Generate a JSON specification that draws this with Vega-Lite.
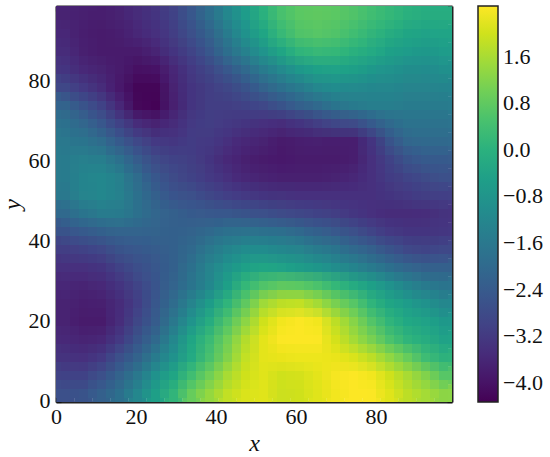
{"$schema":"https://vega.github.io/schema/vega-lite/v6.json","width":396,"height":396,"autosize":{"type":"none"},"padding":{"left":56,"top":6,"right":98,"bottom":55},"background":"white","config":{"view":{"stroke":null},"font":"Liberation Serif","axis":{"domainColor":"#222222","domainWidth":2,"tickColor":"#111111","tickWidth":1.2,"tickSize":-5,"grid":false,"labelFont":"Liberation Serif","labelFontSize":22,"labelColor":"#111111","labelAngle":0,"labelFlush":false,"titleFont":"Liberation Serif","titleFontSize":24,"titleFontStyle":"italic","titleFontWeight":"normal","titleColor":"#111111","zindex":1}},"data":{"name":"grid"},"datasets":{"grid":[
{"x":2,"y":97,"v":-3.7},{"x":7,"y":97,"v":-3.75},{"x":11,"y":97,"v":-3.8},{"x":16,"y":97,"v":-3.7},{"x":20,"y":97,"v":-3.5},{"x":25,"y":97,"v":-3.3},{"x":29,"y":97,"v":-3.0},{"x":34,"y":97,"v":-2.5},{"x":38,"y":97,"v":-1.9},{"x":43,"y":97,"v":-1.2},{"x":47,"y":97,"v":-0.6},{"x":52,"y":97,"v":0.0},{"x":56,"y":97,"v":0.5},{"x":61,"y":97,"v":0.75},{"x":65,"y":97,"v":0.8},{"x":70,"y":97,"v":0.75},{"x":74,"y":97,"v":0.6},{"x":79,"y":97,"v":0.4},{"x":83,"y":97,"v":0.2},{"x":88,"y":97,"v":0.0},{"x":92,"y":97,"v":-0.1},{"x":97,"y":97,"v":-0.1},
{"x":2,"y":92,"v":-3.6},{"x":7,"y":92,"v":-3.8},{"x":11,"y":92,"v":-3.85},{"x":16,"y":92,"v":-3.8},{"x":20,"y":92,"v":-3.6},{"x":25,"y":92,"v":-3.4},{"x":29,"y":92,"v":-3.1},{"x":34,"y":92,"v":-2.7},{"x":38,"y":92,"v":-2.2},{"x":43,"y":92,"v":-1.5},{"x":47,"y":92,"v":-0.9},{"x":52,"y":92,"v":-0.3},{"x":56,"y":92,"v":0.25},{"x":61,"y":92,"v":0.6},{"x":65,"y":92,"v":0.7},{"x":70,"y":92,"v":0.6},{"x":74,"y":92,"v":0.4},{"x":79,"y":92,"v":0.15},{"x":83,"y":92,"v":-0.1},{"x":88,"y":92,"v":-0.3},{"x":92,"y":92,"v":-0.4},{"x":97,"y":92,"v":-0.35},
{"x":2,"y":88,"v":-3.5},{"x":7,"y":88,"v":-3.75},{"x":11,"y":88,"v":-3.85},{"x":16,"y":88,"v":-3.85},{"x":20,"y":88,"v":-3.85},{"x":25,"y":88,"v":-3.65},{"x":29,"y":88,"v":-3.3},{"x":34,"y":88,"v":-2.95},{"x":38,"y":88,"v":-2.5},{"x":43,"y":88,"v":-1.9},{"x":47,"y":88,"v":-1.35},{"x":52,"y":88,"v":-0.8},{"x":56,"y":88,"v":-0.3},{"x":61,"y":88,"v":0.1},{"x":65,"y":88,"v":0.25},{"x":70,"y":88,"v":0.2},{"x":74,"y":88,"v":0.0},{"x":79,"y":88,"v":-0.2},{"x":83,"y":88,"v":-0.45},{"x":88,"y":88,"v":-0.6},{"x":92,"y":88,"v":-0.7},{"x":97,"y":88,"v":-0.6},
{"x":2,"y":83,"v":-3.3},{"x":7,"y":83,"v":-3.55},{"x":11,"y":83,"v":-3.7},{"x":16,"y":83,"v":-3.85},{"x":20,"y":83,"v":-4.05},{"x":25,"y":83,"v":-4.0},{"x":29,"y":83,"v":-3.6},{"x":34,"y":83,"v":-3.2},{"x":38,"y":83,"v":-2.9},{"x":43,"y":83,"v":-2.45},{"x":47,"y":83,"v":-2.0},{"x":52,"y":83,"v":-1.5},{"x":56,"y":83,"v":-1.1},{"x":61,"y":83,"v":-0.7},{"x":65,"y":83,"v":-0.45},{"x":70,"y":83,"v":-0.4},{"x":74,"y":83,"v":-0.5},{"x":79,"y":83,"v":-0.7},{"x":83,"y":83,"v":-0.85},{"x":88,"y":83,"v":-1.0},{"x":92,"y":83,"v":-1.05},{"x":97,"y":83,"v":-0.95},
{"x":2,"y":79,"v":-2.9},{"x":7,"y":79,"v":-3.2},{"x":11,"y":79,"v":-3.5},{"x":16,"y":79,"v":-3.9},{"x":20,"y":79,"v":-4.25},{"x":25,"y":79,"v":-4.25},{"x":29,"y":79,"v":-3.7},{"x":34,"y":79,"v":-3.3},{"x":38,"y":79,"v":-3.1},{"x":43,"y":79,"v":-2.9},{"x":47,"y":79,"v":-2.6},{"x":52,"y":79,"v":-2.2},{"x":56,"y":79,"v":-1.8},{"x":61,"y":79,"v":-1.5},{"x":65,"y":79,"v":-1.2},{"x":70,"y":79,"v":-1.05},{"x":74,"y":79,"v":-1.1},{"x":79,"y":79,"v":-1.15},{"x":83,"y":79,"v":-1.2},{"x":88,"y":79,"v":-1.3},{"x":92,"y":79,"v":-1.3},{"x":97,"y":79,"v":-1.25},
{"x":2,"y":74,"v":-2.2},{"x":7,"y":74,"v":-2.6},{"x":11,"y":74,"v":-3.0},{"x":16,"y":74,"v":-3.6},{"x":20,"y":74,"v":-4.2},{"x":25,"y":74,"v":-4.3},{"x":29,"y":74,"v":-3.75},{"x":34,"y":74,"v":-3.3},{"x":38,"y":74,"v":-3.1},{"x":43,"y":74,"v":-3.1},{"x":47,"y":74,"v":-3.0},{"x":52,"y":74,"v":-2.85},{"x":56,"y":74,"v":-2.6},{"x":61,"y":74,"v":-2.3},{"x":65,"y":74,"v":-2.0},{"x":70,"y":74,"v":-1.7},{"x":74,"y":74,"v":-1.55},{"x":79,"y":74,"v":-1.45},{"x":83,"y":74,"v":-1.45},{"x":88,"y":74,"v":-1.5},{"x":92,"y":74,"v":-1.5},{"x":97,"y":74,"v":-1.5},
{"x":2,"y":70,"v":-1.8},{"x":7,"y":70,"v":-2.1},{"x":11,"y":70,"v":-2.5},{"x":16,"y":70,"v":-3.0},{"x":20,"y":70,"v":-3.5},{"x":25,"y":70,"v":-3.7},{"x":29,"y":70,"v":-3.5},{"x":34,"y":70,"v":-3.2},{"x":38,"y":70,"v":-3.1},{"x":43,"y":70,"v":-3.2},{"x":47,"y":70,"v":-3.3},{"x":52,"y":70,"v":-3.4},{"x":56,"y":70,"v":-3.45},{"x":61,"y":70,"v":-3.3},{"x":65,"y":70,"v":-3.1},{"x":70,"y":70,"v":-2.9},{"x":74,"y":70,"v":-2.8},{"x":79,"y":70,"v":-2.4},{"x":83,"y":70,"v":-2.0},{"x":88,"y":70,"v":-1.75},{"x":92,"y":70,"v":-1.75},{"x":97,"y":70,"v":-1.75},
{"x":2,"y":65,"v":-1.6},{"x":7,"y":65,"v":-1.7},{"x":11,"y":65,"v":-1.95},{"x":16,"y":65,"v":-2.4},{"x":20,"y":65,"v":-2.85},{"x":25,"y":65,"v":-3.2},{"x":29,"y":65,"v":-3.25},{"x":34,"y":65,"v":-3.15},{"x":38,"y":65,"v":-3.2},{"x":43,"y":65,"v":-3.4},{"x":47,"y":65,"v":-3.6},{"x":52,"y":65,"v":-3.7},{"x":56,"y":65,"v":-3.85},{"x":61,"y":65,"v":-3.8},{"x":65,"y":65,"v":-3.75},{"x":70,"y":65,"v":-3.8},{"x":74,"y":65,"v":-3.8},{"x":79,"y":65,"v":-3.3},{"x":83,"y":65,"v":-2.6},{"x":88,"y":65,"v":-2.1},{"x":92,"y":65,"v":-2.0},{"x":97,"y":65,"v":-2.0},
{"x":2,"y":61,"v":-1.5},{"x":7,"y":61,"v":-1.4},{"x":11,"y":61,"v":-1.45},{"x":16,"y":61,"v":-1.8},{"x":20,"y":61,"v":-2.35},{"x":25,"y":61,"v":-2.8},{"x":29,"y":61,"v":-3.0},{"x":34,"y":61,"v":-3.1},{"x":38,"y":61,"v":-3.3},{"x":43,"y":61,"v":-3.55},{"x":47,"y":61,"v":-3.75},{"x":52,"y":61,"v":-3.85},{"x":56,"y":61,"v":-3.9},{"x":61,"y":61,"v":-3.85},{"x":65,"y":61,"v":-3.85},{"x":70,"y":61,"v":-3.85},{"x":74,"y":61,"v":-3.8},{"x":79,"y":61,"v":-3.4},{"x":83,"y":61,"v":-3.0},{"x":88,"y":61,"v":-2.6},{"x":92,"y":61,"v":-2.4},{"x":97,"y":61,"v":-2.4},
{"x":2,"y":56,"v":-1.5},{"x":7,"y":56,"v":-1.25},{"x":11,"y":56,"v":-1.15},{"x":16,"y":56,"v":-1.4},{"x":20,"y":56,"v":-1.95},{"x":25,"y":56,"v":-2.5},{"x":29,"y":56,"v":-2.8},{"x":34,"y":56,"v":-3.0},{"x":38,"y":56,"v":-3.2},{"x":43,"y":56,"v":-3.4},{"x":47,"y":56,"v":-3.6},{"x":52,"y":56,"v":-3.7},{"x":56,"y":56,"v":-3.75},{"x":61,"y":56,"v":-3.75},{"x":65,"y":56,"v":-3.75},{"x":70,"y":56,"v":-3.7},{"x":74,"y":56,"v":-3.6},{"x":79,"y":56,"v":-3.4},{"x":83,"y":56,"v":-3.15},{"x":88,"y":56,"v":-2.95},{"x":92,"y":56,"v":-2.8},{"x":97,"y":56,"v":-2.7},
{"x":2,"y":52,"v":-1.6},{"x":7,"y":52,"v":-1.3},{"x":11,"y":52,"v":-1.15},{"x":16,"y":52,"v":-1.35},{"x":20,"y":52,"v":-1.8},{"x":25,"y":52,"v":-2.3},{"x":29,"y":52,"v":-2.55},{"x":34,"y":52,"v":-2.7},{"x":38,"y":52,"v":-2.9},{"x":43,"y":52,"v":-3.05},{"x":47,"y":52,"v":-3.2},{"x":52,"y":52,"v":-3.3},{"x":56,"y":52,"v":-3.35},{"x":61,"y":52,"v":-3.4},{"x":65,"y":52,"v":-3.4},{"x":70,"y":52,"v":-3.4},{"x":74,"y":52,"v":-3.4},{"x":79,"y":52,"v":-3.4},{"x":83,"y":52,"v":-3.3},{"x":88,"y":52,"v":-3.2},{"x":92,"y":52,"v":-3.1},{"x":97,"y":52,"v":-3.05},
{"x":2,"y":47,"v":-2.0},{"x":7,"y":47,"v":-1.7},{"x":11,"y":47,"v":-1.5},{"x":16,"y":47,"v":-1.55},{"x":20,"y":47,"v":-1.8},{"x":25,"y":47,"v":-2.1},{"x":29,"y":47,"v":-2.3},{"x":34,"y":47,"v":-2.4},{"x":38,"y":47,"v":-2.45},{"x":43,"y":47,"v":-2.5},{"x":47,"y":47,"v":-2.6},{"x":52,"y":47,"v":-2.7},{"x":56,"y":47,"v":-2.8},{"x":61,"y":47,"v":-2.9},{"x":65,"y":47,"v":-3.0},{"x":70,"y":47,"v":-3.1},{"x":74,"y":47,"v":-3.25},{"x":79,"y":47,"v":-3.4},{"x":83,"y":47,"v":-3.5},{"x":88,"y":47,"v":-3.5},{"x":92,"y":47,"v":-3.45},{"x":97,"y":47,"v":-3.35},
{"x":2,"y":43,"v":-2.6},{"x":7,"y":43,"v":-2.4},{"x":11,"y":43,"v":-2.25},{"x":16,"y":43,"v":-2.15},{"x":20,"y":43,"v":-2.15},{"x":25,"y":43,"v":-2.2},{"x":29,"y":43,"v":-2.25},{"x":34,"y":43,"v":-2.2},{"x":38,"y":43,"v":-2.0},{"x":43,"y":43,"v":-1.8},{"x":47,"y":43,"v":-1.75},{"x":52,"y":43,"v":-1.8},{"x":56,"y":43,"v":-1.9},{"x":61,"y":43,"v":-2.05},{"x":65,"y":43,"v":-2.25},{"x":70,"y":43,"v":-2.45},{"x":74,"y":43,"v":-2.7},{"x":79,"y":43,"v":-2.95},{"x":83,"y":43,"v":-3.2},{"x":88,"y":43,"v":-3.3},{"x":92,"y":43,"v":-3.3},{"x":97,"y":43,"v":-3.25},
{"x":2,"y":38,"v":-3.1},{"x":7,"y":38,"v":-3.0},{"x":11,"y":38,"v":-2.85},{"x":16,"y":38,"v":-2.6},{"x":20,"y":38,"v":-2.45},{"x":25,"y":38,"v":-2.35},{"x":29,"y":38,"v":-2.25},{"x":34,"y":38,"v":-2.0},{"x":38,"y":38,"v":-1.6},{"x":43,"y":38,"v":-1.25},{"x":47,"y":38,"v":-1.05},{"x":52,"y":38,"v":-1.05},{"x":56,"y":38,"v":-1.15},{"x":61,"y":38,"v":-1.3},{"x":65,"y":38,"v":-1.5},{"x":70,"y":38,"v":-1.7},{"x":74,"y":38,"v":-2.0},{"x":79,"y":38,"v":-2.3},{"x":83,"y":38,"v":-2.6},{"x":88,"y":38,"v":-2.85},{"x":92,"y":38,"v":-2.95},{"x":97,"y":38,"v":-2.85},
{"x":2,"y":34,"v":-3.4},{"x":7,"y":34,"v":-3.4},{"x":11,"y":34,"v":-3.3},{"x":16,"y":34,"v":-3.0},{"x":20,"y":34,"v":-2.75},{"x":25,"y":34,"v":-2.5},{"x":29,"y":34,"v":-2.25},{"x":34,"y":34,"v":-1.8},{"x":38,"y":34,"v":-1.3},{"x":43,"y":34,"v":-0.8},{"x":47,"y":34,"v":-0.45},{"x":52,"y":34,"v":-0.3},{"x":56,"y":34,"v":-0.4},{"x":61,"y":34,"v":-0.55},{"x":65,"y":34,"v":-0.75},{"x":70,"y":34,"v":-1.0},{"x":74,"y":34,"v":-1.25},{"x":79,"y":34,"v":-1.55},{"x":83,"y":34,"v":-1.85},{"x":88,"y":34,"v":-2.1},{"x":92,"y":34,"v":-2.3},{"x":97,"y":34,"v":-2.3},
{"x":2,"y":29,"v":-3.6},{"x":7,"y":29,"v":-3.65},{"x":11,"y":29,"v":-3.55},{"x":16,"y":29,"v":-3.3},{"x":20,"y":29,"v":-2.95},{"x":25,"y":29,"v":-2.55},{"x":29,"y":29,"v":-2.15},{"x":34,"y":29,"v":-1.7},{"x":38,"y":29,"v":-1.15},{"x":43,"y":29,"v":-0.5},{"x":47,"y":29,"v":0.2},{"x":52,"y":29,"v":0.6},{"x":56,"y":29,"v":0.8},{"x":61,"y":29,"v":0.75},{"x":65,"y":29,"v":0.55},{"x":70,"y":29,"v":0.2},{"x":74,"y":29,"v":-0.15},{"x":79,"y":29,"v":-0.5},{"x":83,"y":29,"v":-0.9},{"x":88,"y":29,"v":-1.25},{"x":92,"y":29,"v":-1.55},{"x":97,"y":29,"v":-1.7},
{"x":2,"y":25,"v":-3.7},{"x":7,"y":25,"v":-3.8},{"x":11,"y":25,"v":-3.75},{"x":16,"y":25,"v":-3.5},{"x":20,"y":25,"v":-3.05},{"x":25,"y":25,"v":-2.5},{"x":29,"y":25,"v":-1.95},{"x":34,"y":25,"v":-1.3},{"x":38,"y":25,"v":-0.55},{"x":43,"y":25,"v":0.1},{"x":47,"y":25,"v":0.8},{"x":52,"y":25,"v":1.5},{"x":56,"y":25,"v":1.8},{"x":61,"y":25,"v":1.85},{"x":65,"y":25,"v":1.55},{"x":70,"y":25,"v":1.1},{"x":74,"y":25,"v":0.7},{"x":79,"y":25,"v":0.1},{"x":83,"y":25,"v":-0.3},{"x":88,"y":25,"v":-0.6},{"x":92,"y":25,"v":-0.9},{"x":97,"y":25,"v":-1.2},
{"x":2,"y":20,"v":-3.7},{"x":7,"y":20,"v":-3.85},{"x":11,"y":20,"v":-3.85},{"x":16,"y":20,"v":-3.45},{"x":20,"y":20,"v":-2.9},{"x":25,"y":20,"v":-2.35},{"x":29,"y":20,"v":-1.6},{"x":34,"y":20,"v":-0.8},{"x":38,"y":20,"v":-0.1},{"x":43,"y":20,"v":0.6},{"x":47,"y":20,"v":1.3},{"x":52,"y":20,"v":2.0},{"x":56,"y":20,"v":2.35},{"x":61,"y":20,"v":2.45},{"x":65,"y":20,"v":2.35},{"x":70,"y":20,"v":1.8},{"x":74,"y":20,"v":1.25},{"x":79,"y":20,"v":0.65},{"x":83,"y":20,"v":0.1},{"x":88,"y":20,"v":-0.25},{"x":92,"y":20,"v":-0.4},{"x":97,"y":20,"v":-0.7},
{"x":2,"y":16,"v":-3.55},{"x":7,"y":16,"v":-3.65},{"x":11,"y":16,"v":-3.6},{"x":16,"y":16,"v":-3.2},{"x":20,"y":16,"v":-2.6},{"x":25,"y":16,"v":-2.0},{"x":29,"y":16,"v":-1.2},{"x":34,"y":16,"v":-0.3},{"x":38,"y":16,"v":0.3},{"x":43,"y":16,"v":1.0},{"x":47,"y":16,"v":1.7},{"x":52,"y":16,"v":2.2},{"x":56,"y":16,"v":2.45},{"x":61,"y":16,"v":2.47},{"x":65,"y":16,"v":2.45},{"x":70,"y":16,"v":2.05},{"x":74,"y":16,"v":1.55},{"x":79,"y":16,"v":1.1},{"x":83,"y":16,"v":0.55},{"x":88,"y":16,"v":0.1},{"x":92,"y":16,"v":-0.1},{"x":97,"y":16,"v":-0.4},
{"x":2,"y":11,"v":-3.35},{"x":7,"y":11,"v":-3.4},{"x":11,"y":11,"v":-3.2},{"x":16,"y":11,"v":-2.7},{"x":20,"y":11,"v":-2.2},{"x":25,"y":11,"v":-1.5},{"x":29,"y":11,"v":-0.9},{"x":34,"y":11,"v":-0.2},{"x":38,"y":11,"v":0.5},{"x":43,"y":11,"v":1.2},{"x":47,"y":11,"v":1.85},{"x":52,"y":11,"v":2.2},{"x":56,"y":11,"v":2.25},{"x":61,"y":11,"v":2.3},{"x":65,"y":11,"v":2.3},{"x":70,"y":11,"v":2.25},{"x":74,"y":11,"v":2.1},{"x":79,"y":11,"v":1.8},{"x":83,"y":11,"v":1.35},{"x":88,"y":11,"v":0.9},{"x":92,"y":11,"v":0.35},{"x":97,"y":11,"v":0.05},
{"x":2,"y":7,"v":-3.0},{"x":7,"y":7,"v":-3.0},{"x":11,"y":7,"v":-2.7},{"x":16,"y":7,"v":-2.2},{"x":20,"y":7,"v":-1.6},{"x":25,"y":7,"v":-0.9},{"x":29,"y":7,"v":-0.3},{"x":34,"y":7,"v":0.4},{"x":38,"y":7,"v":1.0},{"x":43,"y":7,"v":1.6},{"x":47,"y":7,"v":2.0},{"x":52,"y":7,"v":2.15},{"x":56,"y":7,"v":2.0},{"x":61,"y":7,"v":2.05},{"x":65,"y":7,"v":2.2},{"x":70,"y":7,"v":2.4},{"x":74,"y":7,"v":2.47},{"x":79,"y":7,"v":2.35},{"x":83,"y":7,"v":2.0},{"x":88,"y":7,"v":1.6},{"x":92,"y":7,"v":1.2},{"x":97,"y":7,"v":0.7},
{"x":2,"y":2,"v":-2.7},{"x":7,"y":2,"v":-2.6},{"x":11,"y":2,"v":-2.3},{"x":16,"y":2,"v":-1.85},{"x":20,"y":2,"v":-1.2},{"x":25,"y":2,"v":-0.5},{"x":29,"y":2,"v":0.15},{"x":34,"y":2,"v":0.9},{"x":38,"y":2,"v":1.4},{"x":43,"y":2,"v":1.85},{"x":47,"y":2,"v":2.1},{"x":52,"y":2,"v":2.15},{"x":56,"y":2,"v":1.95},{"x":61,"y":2,"v":2.0},{"x":65,"y":2,"v":2.15},{"x":70,"y":2,"v":2.35},{"x":74,"y":2,"v":2.47},{"x":79,"y":2,"v":2.45},{"x":83,"y":2,"v":2.15},{"x":88,"y":2,"v":1.8},{"x":92,"y":2,"v":1.55},{"x":97,"y":2,"v":1.3}
]},"encoding":{"x":{"field":"x","type":"quantitative","bin":{"step":4.5,"extent":[0,99]},"scale":{"domain":[0,99],"nice":false},"axis":null},"y":{"field":"y","type":"quantitative","bin":{"step":4.5,"extent":[0,99]},"scale":{"domain":[0,99],"nice":false},"axis":null},"color":{"field":"v","type":"quantitative","scale":{"scheme":"viridis","domain":[-4.33,2.47]},"legend":{"orient":"none","legendX":422,"legendY":0,"title":null,"type":"gradient","direction":"vertical","gradientLength":396,"gradientThickness":20,"gradientStrokeColor":"#222222","gradientStrokeWidth":1.5,"values":[-4,-3.2,-2.4,-1.6,-0.8,0,0.8,1.6],"labelFont":"Liberation Serif","labelFontSize":22,"labelColor":"#111111","labelOffset":5,"labelOverlap":false,"labelExpr":"replace(format(datum.value,'.1f'),'-','−')"}}},"layer":[{"mark":{"type":"rect","clip":true}},{"mark":{"type":"rect","clip":true,"xOffset":-4.5,"x2Offset":-4.5,"yOffset":-4.5,"y2Offset":-4.5}},{"mark":{"type":"rect","clip":true,"fillOpacity":0.5,"xOffset":4.5,"x2Offset":4.5,"yOffset":-4.5,"y2Offset":-4.5}},{"mark":{"type":"rect","clip":true,"fillOpacity":0.3333,"xOffset":-4.5,"x2Offset":-4.5,"yOffset":4.5,"y2Offset":4.5}},{"mark":{"type":"rect","clip":true,"fillOpacity":0.25,"xOffset":4.5,"x2Offset":4.5,"yOffset":4.5,"y2Offset":4.5}},{"mark":{"type":"rect","fillOpacity":0},"encoding":{"x":{"field":"x","type":"quantitative","bin":{"step":4.5,"extent":[0,99]},"axis":{"orient":"bottom","values":[0,20,40,60,80],"title":"x","format":"d","labelPadding":9,"titlePadding":4}},"y":{"field":"y","type":"quantitative","bin":{"step":4.5,"extent":[0,99]},"axis":{"orient":"left","values":[0,20,40,60,80],"title":"y","format":"d","labelPadding":11,"labelOffset":-2,"titlePadding":4}}}},{"mark":{"type":"rect","fillOpacity":0},"encoding":{"x":{"field":"x","type":"quantitative","bin":{"step":4.5,"extent":[0,99]},"axis":{"orient":"top","values":[0,20,40,60,80],"title":null,"labels":false}},"y":{"field":"y","type":"quantitative","bin":{"step":4.5,"extent":[0,99]},"axis":{"orient":"right","values":[0,20,40,60,80],"title":null,"labels":false}}}}],"resolve":{"axis":{"x":"independent","y":"independent"}}}
